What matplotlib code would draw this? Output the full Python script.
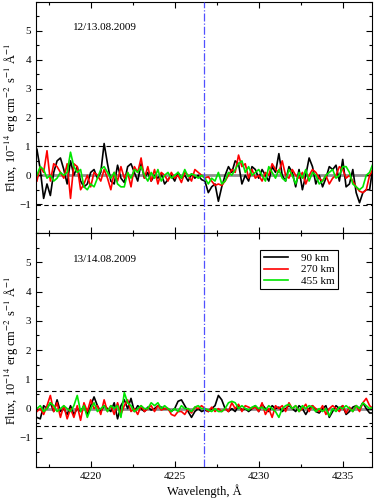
import numpy as np
import matplotlib
matplotlib.use('Agg')
import matplotlib.pyplot as plt
from matplotlib.ticker import MultipleLocator

plt.rcParams['font.family'] = ['Liberation Serif', 'DejaVu Serif']
plt.rcParams['mathtext.fontset'] = 'stix'

# sampling of the spectra, 0.2 A step
wavelength = np.round(np.arange(4216.8, 4236.81, 0.2), 2)
ca_line = 4226.73

labels = ['90 km', '270 km', '455 km']
colors = ['black', '#ff0000', '#00e600']

dates = ['12/13.08.2009', '13/14.08.2009']
noise_levels = [1.03, 0.6]

top_90 = [0.9, 0.2, -0.8, -0.3, -0.7, 0.1, 0.5, 0.6, 0.2, -0.3,
          0.5, 0.0, 0.3, -0.2, -0.4, -0.3, 0.1, 0.2, -0.1, 0.1,
          1.1, 0.4, -0.2, -0.3, 0.35, -0.1, -0.25, 0.3, 0.4, 0.1,
          -0.2, 0.4, -0.1, 0.1, -0.2, 0.0, -0.1, 0.05, -0.3, -0.15,
          0.0, -0.2, 0.1, -0.1, 0.0, -0.2, 0.05, -0.1, 0.0, -0.15,
          -0.2, -0.6, -0.4, -0.3, -0.9, -0.4, 0.0, 0.3, 0.1, 0.5,
          0.4, -0.3, 0.0, -0.2, 0.3, 0.2, -0.1, 0.2, 0.0, -0.2,
          0.3, 0.1, 0.75, 0.0, -0.2, 0.3, 0.1, -0.4, 0.2, -0.5,
          0.0, 0.6, 0.3, -0.3, 0.0, -0.4, -0.1, 0.3, 0.2, 0.35,
          -0.2, 0.55, -0.4, -0.3, 0.2, -0.6, -0.95, -0.6, -0.5, -0.5,
          0.3]
top_270 = [-0.2, 0.3, 0.1, 0.85, -0.2, 0.4, 0.3, 0.1, -0.1, 0.4,
           -0.8, 0.4, 0.3, -0.5, -0.3, 0.0, -0.4, 0.1, 0.0, -0.2,
           0.2, -0.1, -0.5, 0.1, -0.2, 0.3, -0.1, 0.1, -0.4, 0.3,
           0.1, 0.6, -0.1, 0.3, -0.2, 0.2, -0.3, 0.1, 0.0, -0.2,
           0.1, -0.1, 0.0, -0.25, 0.1, 0.0, -0.2, 0.2, 0.1, 0.0,
           -0.1, -0.05, -0.2, -0.35, -0.3, -0.35, -0.2, 0.0, 0.2, 0.1,
           0.7, 0.3, 0.4, -0.1, 0.2, -0.1, 0.0, -0.2, 0.1, 0.0,
           0.4, 0.2, 0.1, 0.5, 0.0, -0.1, 0.2, 0.0, -0.1, 0.1,
           -0.3, 0.0, 0.2, 0.1, -0.1, -0.2, 0.0, -0.3, -0.1, 0.0,
           0.3, 0.2, -0.1, 0.0, -0.2, -0.4, -0.55, -0.6, -0.5, 0.0,
           0.2]
top_455 = [0.0, 0.3, 0.2, -0.1, 0.0, -0.2, -0.1, 0.1, 0.0, 0.1,
           0.8, 0.3, 0.1, 0.2, -0.4, -0.5, -0.3, -0.4, -0.1, 0.2,
           0.3, 0.1, -0.1, 0.1, -0.3, -0.4, -0.4, 0.1, -0.1, 0.2,
           0.1, 0.3, 0.0, -0.2, 0.1, -0.1, 0.2, -0.2, 0.0, 0.1,
           -0.1, 0.0, 0.1, -0.1, 0.2, -0.05, 0.05, 0.0, -0.1, 0.0,
           -0.1, -0.3, -0.1, -0.2, 0.1, -0.3, -0.2, 0.1, 0.0, 0.2,
           0.4, 0.5, 0.1, 0.3, 0.0, 0.1, 0.2, 0.0, -0.2, 0.3,
           0.1, -0.1, 0.2, -0.1, -0.2, 0.2, 0.0, -0.3, 0.1, -0.1,
           0.2, -0.2, 0.1, 0.0, -0.3, -0.2, 0.0, 0.1, 0.2, -0.1,
           0.0, 0.3, 0.3, 0.1, -0.3, -0.4, -0.5, -0.4, 0.0, 0.1,
           0.4]

bottom_90 = [-0.3, -0.35, 0.1, 0.0, 0.2, -0.1, 0.3, -0.1, 0.0, -0.2,
             0.1, -0.2, 0.0, -0.1, 0.1, -0.2, 0.1, 0.4, 0.1, -0.1,
             0.1, 0.0, -0.1, 0.2, -0.35, 0.1, 0.3, 0.0, 0.35, -0.1,
             0.1, 0.0, -0.1, 0.05, -0.05, 0.0, 0.1, 0.05, 0.0, 0.0,
             -0.1, 0.0, 0.25, 0.3, 0.1, -0.1, -0.3, -0.1, 0.0, -0.1,
             -0.05, -0.1, 0.0, 0.1, 0.45, 0.3, 0.0, -0.1, 0.0, -0.1,
             0.1, -0.05, 0.0, -0.1, 0.0, 0.1, -0.1, 0.15, 0.0, -0.1,
             0.1, 0.0, 0.05, -0.1, 0.0, 0.1, 0.0, -0.1, 0.1, 0.0,
             -0.2, 0.0, 0.1, -0.1, -0.15, 0.0, 0.1, -0.3, -0.1, 0.1,
             0.0, 0.1, -0.2, -0.1, 0.05, 0.1, 0.0, 0.2, 0.0, -0.15,
             -0.15]
bottom_270 = [-0.1, 0.0, -0.2, 0.1, 0.45, -0.1, 0.2, -0.3, 0.1, -0.35,
              0.0, -0.3, 0.1, -0.4, 0.2, -0.1, 0.3, 0.0, 0.1, -0.2,
              0.3, -0.1, 0.1, -0.2, 0.2, -0.2, 0.1, 0.3, -0.1, 0.0,
              -0.2, 0.1, -0.1, 0.0, 0.1, -0.1, 0.1, -0.05, 0.0, 0.0,
              -0.2, -0.25, -0.1, -0.1, -0.2, 0.0, -0.15, 0.05, 0.0, 0.1,
              0.0, -0.1, 0.05, -0.1, 0.0, -0.1, 0.0, -0.1, 0.2, 0.0,
              0.15, -0.1, 0.1, 0.05, 0.0, 0.05, -0.1, 0.2, -0.2, 0.0,
              -0.3, 0.1, 0.0, 0.1, -0.1, 0.2, 0.0, 0.1, -0.1, 0.0,
              0.15, -0.1, 0.1, 0.0, -0.1, 0.1, -0.2, 0.0, 0.1, 0.0,
              -0.1, 0.1, -0.15, 0.05, -0.1, 0.1, -0.1, 0.2, 0.35, 0.1,
              0.0]
bottom_455 = [0.0, 0.1, -0.1, 0.0, 0.2, 0.1, -0.1, 0.0, 0.1, 0.0,
              -0.1, 0.1, 0.45, -0.1, 0.1, -0.3, 0.0, 0.2, -0.1, 0.0,
              0.1, -0.1, 0.1, 0.0, 0.1, -0.3, 0.55, 0.2, 0.1, -0.1,
              0.0, 0.1, 0.0, 0.0, 0.2, 0.1, 0.2, 0.0, 0.1, 0.0,
              -0.1, 0.0, -0.1, 0.1, 0.0, 0.0, -0.1, 0.05, 0.1, 0.0,
              0.0, -0.05, -0.1, 0.0, -0.1, -0.1, 0.0, 0.2, 0.25, 0.2,
              0.0, 0.1, 0.0, -0.05, 0.05, 0.1, 0.0, 0.05, -0.05, 0.1,
              0.0, -0.1, -0.3, 0.0, 0.1, 0.15, 0.0, 0.1, -0.1, 0.1,
              0.0, 0.1, 0.05, -0.1, 0.0, -0.1, 0.0, -0.25, 0.0, -0.1,
              0.05, 0.0, 0.1, 0.0, -0.1, 0.1, 0.0, 0.2, 0.1, 0.0,
              0.05]

panels = [[top_90, top_270, top_455], [bottom_90, bottom_270, bottom_455]]


def style_axis(ax):
    ax.set_xlim(4216.74, 4236.75)
    ax.set_ylim(-2, 6)
    ax.set_yticks([-1, 0, 1, 2, 3, 4, 5])
    ax.yaxis.set_minor_locator(MultipleLocator(0.5))
    ax.xaxis.set_major_locator(MultipleLocator(5))
    ax.xaxis.set_minor_locator(MultipleLocator(2.5))
    ax.tick_params(which='both', direction='in', top=True, right=True, labelsize=8)
    ax.tick_params(which='major', length=4, width=0.8)
    ax.tick_params(which='minor', length=2.5, width=0.8)
    ax.set_ylabel(r'Flux, 10$^{-14}$ erg cm$^{-2}$ s$^{-1}$ Å$^{-1}$', fontsize=9)
    ax.yaxis.set_label_coords(-0.045, 0.5)


fig = plt.figure(figsize=(3.74, 4.98), dpi=100)
ax_top = fig.add_axes([0.096, 0.532, 0.899, 0.464])
ax_bot = fig.add_axes([0.096, 0.062, 0.899, 0.470], sharex=ax_top)

for ax, series, date, level in zip([ax_top, ax_bot], panels, dates, noise_levels):
    ax.axhline(0, color='#909090', lw=2.0, zorder=1)
    ax.axhline(level, color='black', ls='--', lw=0.8, dashes=(4, 3))
    ax.axhline(-level, color='black', ls='--', lw=0.8, dashes=(4, 3))
    for values, color, label in zip(series, colors, labels):
        ax.plot(wavelength, values, color=color, lw=1.2, label=label, zorder=2)
    ax.axvline(ca_line, color='#5050ff', ls='-.', lw=0.9, zorder=3)
    ax.text(4218.95, 5.1, date, fontsize=8, va='center', ha='left')
    style_axis(ax)

ax_top.tick_params(labelbottom=False)
ax_bot.set_xlabel('Wavelength, Å', fontsize=9, labelpad=2)

leg = ax_bot.legend(loc='upper right', bbox_to_anchor=(0.916, 0.952), fontsize=8,
                    frameon=True, fancybox=False, edgecolor='black', framealpha=1,
                    handlelength=2.2, handletextpad=1.2, borderpad=0.3, labelspacing=0.15)
leg.get_frame().set_linewidth(0.8)

fig.savefig('out.png', dpi=100)
